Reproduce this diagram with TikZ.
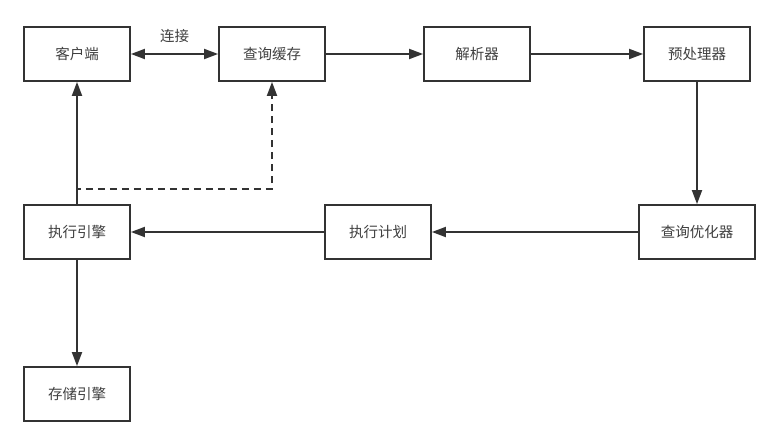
\documentclass[tikz,border=0pt]{standalone}
\usepackage{fontspec}
\setmainfont{Noto Sans CJK SC}
\usetikzlibrary{arrows.meta}
\definecolor{ln}{HTML}{333333}
\definecolor{tx}{HTML}{404040}
\begin{document}
\begin{tikzpicture}[x=1pt,y=-1pt,
  tip/.tip={Triangle[length=14pt,width=10pt]},
  box/.style={draw=ln,line width=1.8pt,fill=white,minimum width=106pt,minimum height=54pt,inner sep=0pt,font=\fontsize{14.5}{16}\selectfont,text=tx},
  conn/.style={draw=ln,line width=1.8pt,-tip}]
\useasboundingbox[fill=white] (0,0) rectangle (779,446);
\node[box] (client) at (77,54) {客户端};
\node[box] (cache) at (272,54) {查询缓存};
\node[box] (parser) at (477,54) {解析器};
\node[box] (pre) at (697,54) {预处理器};
\node[box,minimum width=116pt] (opt) at (697,232) {查询优化器};
\node[box] (plan) at (378,232) {执行计划};
\node[box] (exec) at (77,232) {执行引擎};
\node[box] (store) at (77,394) {存储引擎};
\coordinate (d1) at (77,189);
\coordinate (d2) at (272,189);
\draw[conn,dash pattern=on 7pt off 5pt] (exec.north) -- (d1) -- (d2) -- (cache.south);
\draw[conn,tip-tip] (client) -- node[above=7pt,font=\fontsize{14.5}{16}\selectfont,text=tx] (lbl) {连接} (cache);
\draw[conn] (cache) -- (parser);
\draw[conn] (parser) -- (pre);
\draw[conn] (pre) -- (opt);
\draw[conn] (opt) -- (plan);
\draw[conn] (plan) -- (exec);
\draw[conn] (exec) -- (client);
\draw[conn] (exec) -- (store);
\end{tikzpicture}
\end{document}
